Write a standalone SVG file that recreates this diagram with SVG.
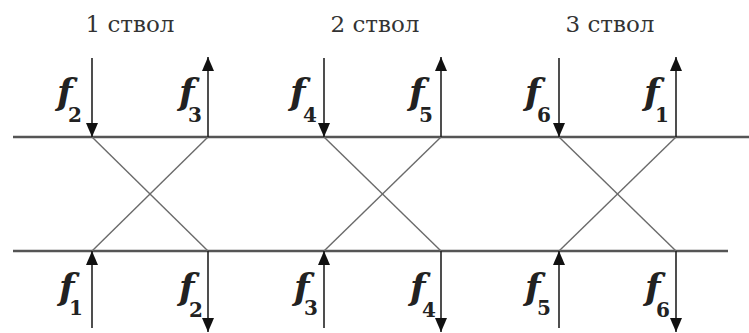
<svg xmlns="http://www.w3.org/2000/svg" width="749" height="333" viewBox="0 0 749 333">
<defs>
<style>
.rail{stroke:#555;stroke-width:2.5;fill:none}
.cross{stroke:#6a6a6a;stroke-width:1.4;fill:none}
.arr{stroke:#222;stroke-width:1.6;fill:none;marker-end:url(#ah)}
.title{font-size:23px;fill:#333;text-anchor:middle}
.f{font-size:36px;font-style:italic;font-weight:bold;fill:#222}
.s{font-size:20px;font-style:normal}
</style>
<marker id="ah" markerUnits="userSpaceOnUse" markerWidth="14" markerHeight="14" viewBox="0 0 14 12" refX="14" refY="6" orient="auto">
<path d="M0,0 L14,6 L0,12 Z" fill="#111"/>
</marker>
</defs>
<rect width="749" height="333" fill="#fff"/>
<g id="rails">
<line class="rail" x1="13" y1="137" x2="749" y2="137"/>
<line class="rail" x1="13" y1="251" x2="728" y2="251"/>
</g>
<g id="connectors">
<line class="cross" x1="92" y1="137" x2="208" y2="251"/>
<line class="cross" x1="208" y1="137" x2="92" y2="251"/>
<line class="cross" x1="324" y1="137" x2="441" y2="251"/>
<line class="cross" x1="441" y1="137" x2="324" y2="251"/>
<line class="cross" x1="559" y1="137" x2="676" y2="251"/>
<line class="cross" x1="676" y1="137" x2="559" y2="251"/>
<line class="arr" x1="92" y1="58" x2="92" y2="137"/>
<line class="arr" x1="208" y1="137" x2="208" y2="57"/>
<line class="arr" x1="324" y1="58" x2="324" y2="137"/>
<line class="arr" x1="441" y1="137" x2="441" y2="57"/>
<line class="arr" x1="559" y1="58" x2="559" y2="137"/>
<line class="arr" x1="676" y1="137" x2="676" y2="57"/>
<line class="arr" x1="92" y1="328" x2="92" y2="251"/>
<line class="arr" x1="208" y1="251" x2="208" y2="332"/>
<line class="arr" x1="324" y1="328" x2="324" y2="251"/>
<line class="arr" x1="441" y1="251" x2="441" y2="332"/>
<line class="arr" x1="559" y1="328" x2="559" y2="251"/>
<line class="arr" x1="676" y1="251" x2="676" y2="332"/>
</g>
<g font-family="DejaVu Serif, serif">
<g id="trunk1"><text class="title" x="130" y="32">1 ствол</text></g>
<g id="trunk2"><text class="title" x="375" y="32">2 ствол</text></g>
<g id="trunk3"><text class="title" x="610" y="32">3 ствол</text></g>
<g id="top-labels">
<text class="f" x="57" y="104">f<tspan class="s" x="68" y="122">2</tspan></text>
<text class="f" x="179" y="104">f<tspan class="s" x="188" y="122">3</tspan></text>
<text class="f" x="290" y="104">f<tspan class="s" x="303" y="122">4</tspan></text>
<text class="f" x="409" y="104">f<tspan class="s" x="419" y="122">5</tspan></text>
<text class="f" x="525" y="104">f<tspan class="s" x="537" y="122">6</tspan></text>
<text class="f" x="644" y="104">f<tspan class="s" x="655" y="122">1</tspan></text>
</g>
<g id="bottom-labels">
<text class="f" x="59" y="299">f<tspan class="s" x="69" y="315">1</tspan></text>
<text class="f" x="179" y="299">f<tspan class="s" x="189" y="317">2</tspan></text>
<text class="f" x="294" y="299">f<tspan class="s" x="304" y="315">3</tspan></text>
<text class="f" x="410" y="299">f<tspan class="s" x="422" y="317">4</tspan></text>
<text class="f" x="525" y="299">f<tspan class="s" x="537" y="315">5</tspan></text>
<text class="f" x="645" y="299">f<tspan class="s" x="656" y="317">6</tspan></text>
</g>
</g>
</svg>
